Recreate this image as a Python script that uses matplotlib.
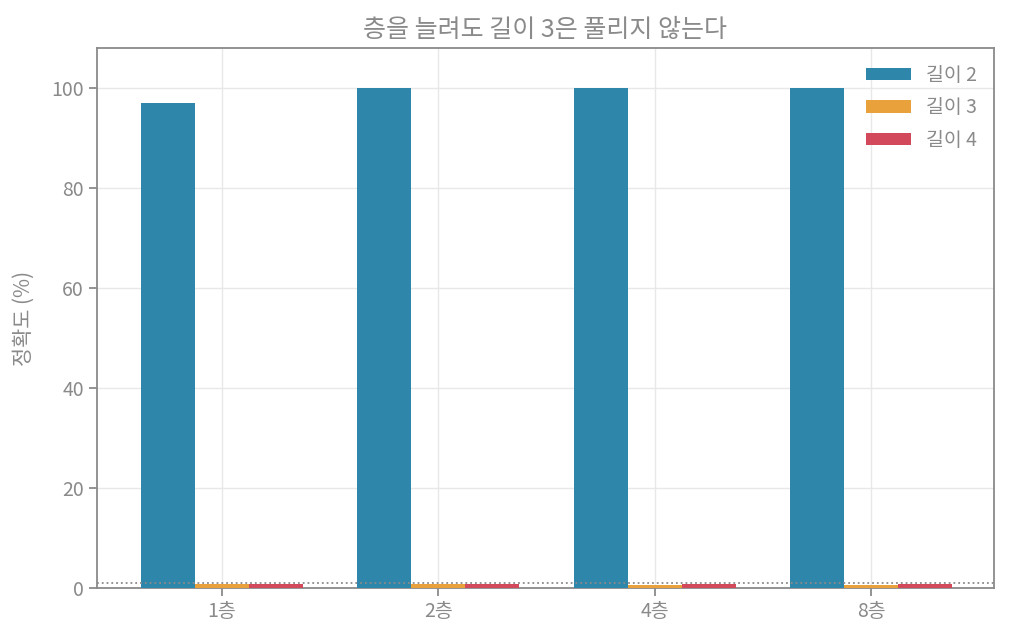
import numpy as np
import matplotlib.pyplot as plt

plt.rcParams['font.family'] = ['Noto Sans CJK KR', 'DejaVu Sans']
plt.rcParams['font.weight'] = 'light'

layers = ['1층', '2층', '4층', '8층']
acc_len2 = [97, 100, 100, 100]
acc_len3 = [0.8, 0.8, 0.6, 0.6]
acc_len4 = [0.8, 0.8, 0.8, 0.8]
chance = 1.0

grey = '#8a8a8a'
colors = ['#2E86AB', '#E8A13B', '#D1495B']

fig, ax = plt.subplots(figsize=(10.1, 6.42), dpi=100)
fig.subplots_adjust(left=0.096, right=0.984, top=0.925, bottom=0.084)

x = np.arange(len(layers))
w = 0.25
for i, (vals, lab) in enumerate(zip([acc_len2, acc_len3, acc_len4], ['길이 2', '길이 3', '길이 4'])):
    ax.bar(x + (i - 1) * w, vals, w, color=colors[i], label=lab, zorder=3)

# 우연 수준
ax.axhline(chance, color=grey, linestyle=':', linewidth=1.3, zorder=4)

ax.set_xlim(-0.578, 3.568)
ax.set_ylim(0, 108)
ax.set_xticks(x)
ax.set_xticklabels(layers)
ax.set_ylabel('정확도 (%)', color=grey, fontsize=15, labelpad=12)
ax.set_title('층을 늘려도 길이 3은 풀리지 않는다', color=grey, fontsize=18, pad=8)

ax.grid(True, color='#e8e8e8', linewidth=1, zorder=0)
ax.set_axisbelow(True)
for s in ax.spines.values():
    s.set_color(grey)
    s.set_linewidth(1.3)
ax.tick_params(colors=grey, labelsize=14, length=6, width=1.3)

leg = ax.legend(frameon=False, loc='upper right', fontsize=14,
                handlelength=2.3, handleheight=0.6, handletextpad=0.8,
                labelspacing=0.6, borderaxespad=0.45)
for t in leg.get_texts():
    t.set_color(grey)

fig.savefig('out.png', dpi=100)
